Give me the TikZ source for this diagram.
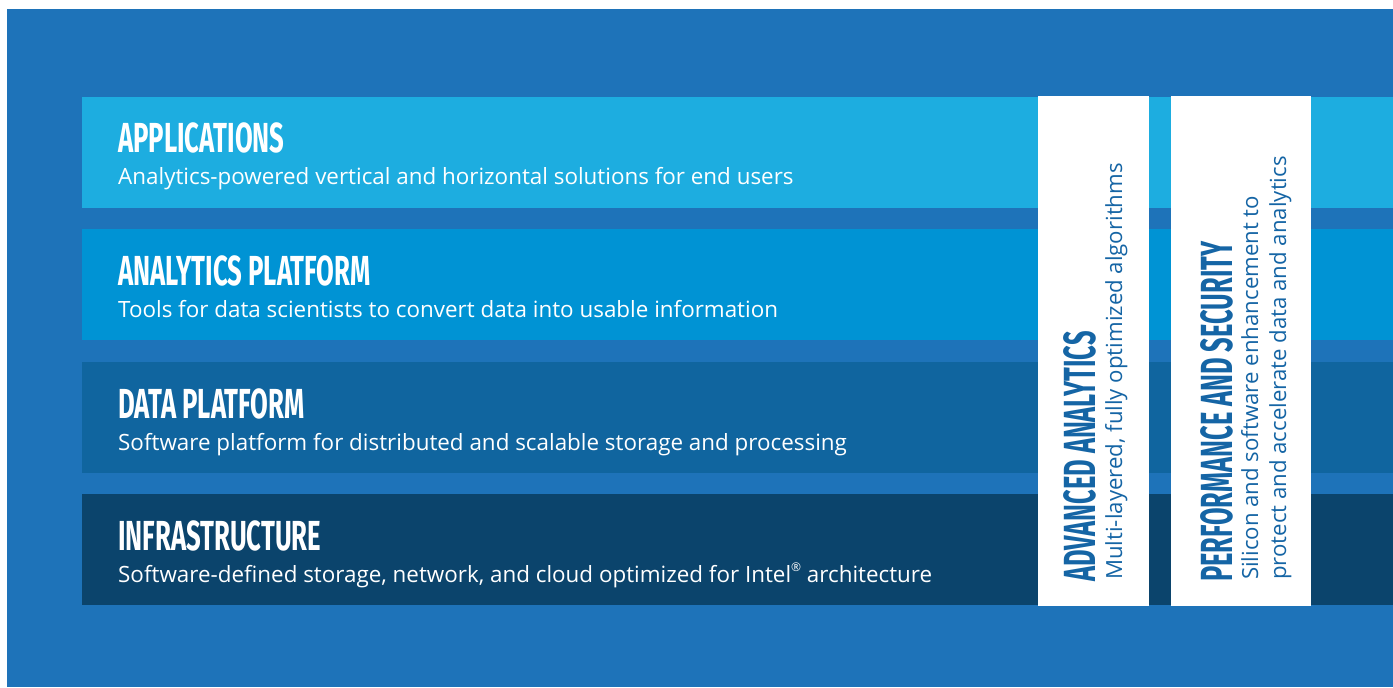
\documentclass[tikz,border=0pt]{standalone}
\usepackage{fontspec}
\setmainfont{Open Sans}
\newfontfamily\titlefont{Fira Sans}[FakeStretch=0.612]
\newfontfamily\coltitlefont{Fira Sans}[FakeStretch=0.565]
\definecolor{bgblue}{RGB}{30,115,185}
\definecolor{barA}{RGB}{29,173,224}
\definecolor{barB}{RGB}{0,147,212}
\definecolor{barC}{RGB}{16,101,159}
\definecolor{barD}{RGB}{11,68,108}
\definecolor{colText}{RGB}{21,101,165}
\tikzset{
  bar/.style={fill=#1, draw=none},
  rowtitle/.style={anchor=base west, inner sep=0pt, text=white, font=\titlefont\bfseries\fontsize{42}{42}\selectfont},
  rowsub/.style={anchor=base west, inner sep=0pt, text=white, font=\fontsize{22.4}{22.4}\selectfont},
  coltitle/.style={anchor=base west, inner sep=0pt, rotate=90, text=colText, font=\coltitlefont\bfseries\fontsize{45}{45}\selectfont},
  colsub/.style={anchor=base west, inner sep=0pt, rotate=90, text=colText, font=\fontsize{22.2}{22.2}\selectfont},
  whitecol/.style={fill=white, draw=none}
}
\begin{document}
\begin{tikzpicture}[x=1pt,y=-1pt]
\useasboundingbox (0,0) rectangle (1393,688);
\fill[white] (0,0) rectangle (1393,688);
\fill[bgblue] (7,9) rectangle (1393,687);
% bars
\fill[bar=barA] (82,97) rectangle (1393,208);
\fill[bar=barB] (82,229) rectangle (1393,340);
\fill[bar=barC] (82,362) rectangle (1393,473);
\fill[bar=barD] (82,494) rectangle (1393,605);
% row texts
\node[rowtitle] (t1) at (118,152) {APPLICATIONS};
\node[rowsub] (s1) at (118,184) {Analytics-powered vertical and horizontal solutions for end users};
\node[rowtitle] (t2) at (118,285) {ANALYTICS PLATFORM};
\node[rowsub] (s2) at (118,317) {Tools for data scientists to convert data into usable information};
\node[rowtitle] (t3) at (118,418) {DATA PLATFORM};
\node[rowsub] (s3) at (118,450) {Software platform for distributed and scalable storage and processing};
\node[rowtitle] (t4) at (118,550) {INFRASTRUCTURE};
\node[rowsub] (s4) at (118,582) {Software-defined storage, network, and cloud optimized for Intel\raisebox{0.45em}{\fontsize{12}{12}\selectfont\textregistered} architecture};
% white columns
\fill[whitecol] (1038,96) rectangle (1149,606);
\fill[whitecol] (1171,96) rectangle (1311,606);
\node[coltitle] (c1) at (1095,582) {ADVANCED ANALYTICS};
\node[colsub] (c1s) at (1122,580) {Multi-layered, fully optimized algorithms};
\node[coltitle] (c2) at (1232,582) {PERFORMANCE AND SECURITY};
\node[colsub] (c2s) at (1258,580) {Silicon and software enhancement to};
\node[colsub] (c2t) at (1286,580) {protect and accelerate data and analytics};
\end{tikzpicture}
\end{document}
